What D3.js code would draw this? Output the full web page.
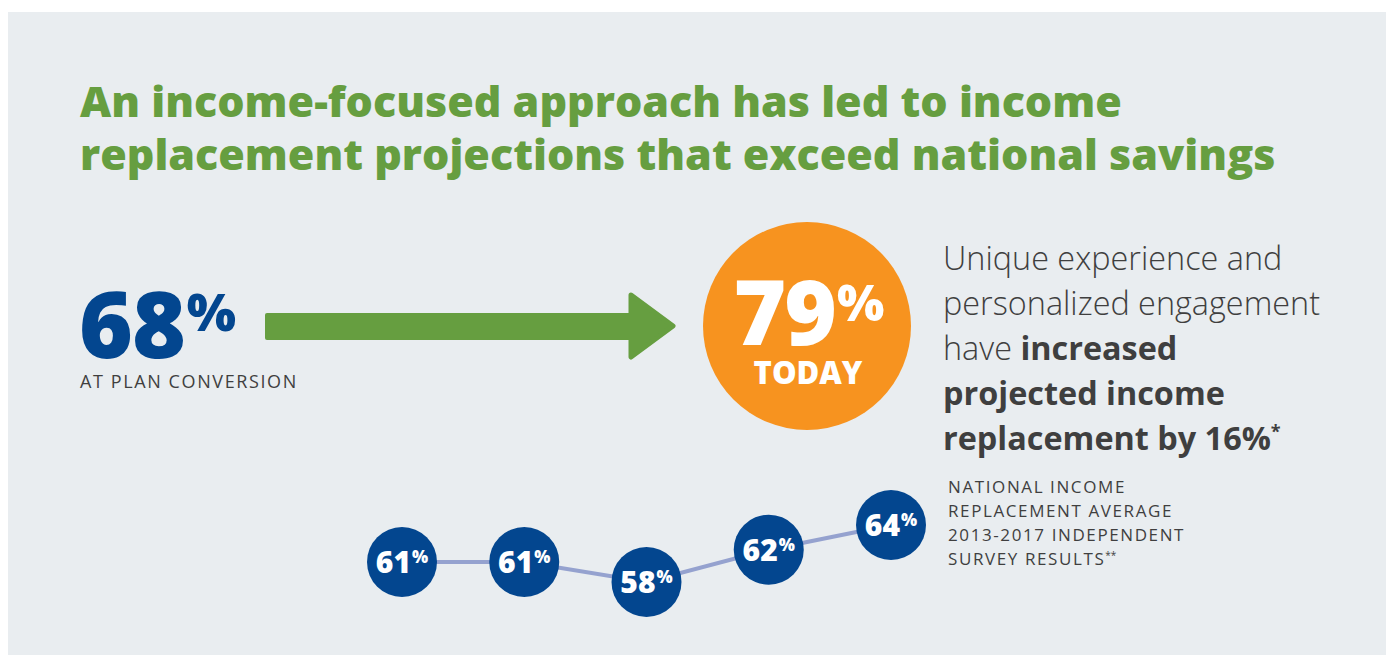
<!DOCTYPE html>
<html>
<head>
<meta charset="utf-8">
<script src="https://cdn.jsdelivr.net/npm/d3@7"></script>
<style>
  html, body { margin: 0; padding: 0; background: #fff; }
  svg { display: block; font-family: 'Open Sans', sans-serif; }
</style>
</head>
<body>
<div id="chart"></div>
<script>
// values
const years = ['2013', '2014', '2015', '2016', '2017'];
const nationalAvg = [61, 61, 58, 62, 64];
const atConversion = 68;
const today = 79;
const increase = 16;

const titleLines = [
  'An income-focused approach has led to income',
  'replacement projections that exceed national savings'
];
const captionLines = ['NATIONAL INCOME', 'REPLACEMENT AVERAGE', '2013-2017 INDEPENDENT', 'SURVEY RESULTS'];

const width = 1386;
const height = 655;

const green = '#669e40';
const navy = '#03468f';
const orange = '#f7931f';
const grey = '#3f3f3f';

const svg = d3.select('#chart')
  .append('svg')
  .attr('width', width)
  .attr('height', height);

// panel
svg.append('rect')
  .attr('x', 8)
  .attr('y', 12)
  .attr('width', width - 8)
  .attr('height', height - 12)
  .attr('fill', '#e9edf0');

// title
svg.append('g')
  .selectAll('text')
  .data(titleLines)
  .enter()
  .append('text')
  .attr('x', 80)
  .attr('y', (d, i) => 117 + i * 53)
  .attr('fill', green)
  .style('font-size', '43px')
  .style('font-weight', 800)
  .text((d) => d);

// 68% at plan conversion
const left = svg.append('text')
  .attr('x', 79)
  .attr('y', 358)
  .attr('fill', navy)
  .style('font-weight', 800);
left.append('tspan')
  .style('font-size', '92px')
  .style('letter-spacing', '-1px')
  .text(atConversion);
left.append('tspan')
  .attr('dy', -27)
  .attr('dx', 2)
  .style('font-size', '52px')
  .text('%');

svg.append('text')
  .attr('x', 80)
  .attr('y', 388)
  .attr('fill', grey)
  .style('font-size', '18px')
  .style('letter-spacing', '1.6px')
  .text('AT PLAN CONVERSION');

// arrow
svg.append('rect')
  .attr('x', 265)
  .attr('y', 313)
  .attr('width', 370)
  .attr('height', 27)
  .attr('rx', 2)
  .attr('fill', green);

svg.append('path')
  .attr('d', 'M631,295 L673,326 L631,357 Z')
  .attr('fill', green)
  .attr('stroke', green)
  .attr('stroke-width', 5)
  .attr('stroke-linejoin', 'round');

// 79% today
svg.append('circle')
  .attr('cx', 807)
  .attr('cy', 326)
  .attr('r', 104)
  .attr('fill', orange);

const big = svg.append('text')
  .attr('x', 809)
  .attr('y', 345)
  .attr('text-anchor', 'middle')
  .attr('fill', '#fff')
  .style('font-weight', 800);
big.append('tspan')
  .style('font-size', '90px')
  .style('letter-spacing', '-2px')
  .text(today);
big.append('tspan')
  .attr('dy', -24)
  .attr('dx', 2)
  .style('font-size', '50px')
  .text('%');

svg.append('text')
  .attr('x', 808)
  .attr('y', 384)
  .attr('text-anchor', 'middle')
  .attr('fill', '#fff')
  .style('font-size', '31px')
  .style('font-weight', 800)
  .text('TODAY');

// paragraph
const para = [
  [{ t: 'Unique experience and', w: 300 }],
  [{ t: 'personalized engagement', w: 300 }],
  [{ t: 'have ', w: 300 }, { t: 'increased', w: 700 }],
  [{ t: 'projected income', w: 700 }],
  [{ t: 'replacement by ' + increase + '%', w: 700 }, { t: '*', w: 700, sup: true }]
];

const paraText = svg.append('text')
  .attr('fill', grey)
  .style('font-size', '32.4px');

para.forEach((line, i) => {
  line.forEach((part, j) => {
    const ts = paraText.append('tspan')
      .style('font-weight', part.w)
      .text(part.t);
    if (j === 0) ts.attr('x', 943).attr('y', 270 + i * 45);
    if (part.sup) ts.attr('dy', -12).style('font-size', '18px');
  });
});

// caption
const cap = svg.append('text')
  .attr('fill', grey)
  .style('font-size', '17px')
  .style('letter-spacing', '1.6px');

captionLines.forEach((d, i) => {
  cap.append('tspan')
    .attr('x', 948)
    .attr('y', 493 + i * 24)
    .text(d);
});
cap.append('tspan')
  .attr('dy', -6)
  .style('font-size', '10px')
  .style('letter-spacing', '0px')
  .text('**');

// national average line
const x = d3.scalePoint()
  .domain(years)
  .range([402, 891]);

const y = d3.scaleLinear()
  .domain([58, 61, 64])
  .range([582, 562, 525]);

const pts = years.map((d, i) => ({ year: d, value: nationalAvg[i] }));

const line = d3.line()
  .x((d) => x(d.year))
  .y((d) => y(d.value));

svg.append('path')
  .datum(pts)
  .attr('d', line)
  .attr('fill', 'none')
  .attr('stroke', '#95a2cf')
  .attr('stroke-width', 4);

const dots = svg.selectAll('.dot')
  .data(pts)
  .enter()
  .append('g')
  .attr('class', 'dot')
  .attr('transform', (d) => `translate(${x(d.year)}, ${y(d.value)})`);

dots.append('circle')
  .attr('r', 35)
  .attr('fill', navy);

const lbl = dots.append('text')
  .attr('y', 11)
  .attr('text-anchor', 'middle')
  .attr('fill', '#fff')
  .style('font-weight', 800);
lbl.append('tspan')
  .style('font-size', '30px')
  .text((d) => d.value);
lbl.append('tspan')
  .attr('dy', -10)
  .attr('dx', 1)
  .style('font-size', '17px')
  .text('%');
</script>
</body>
</html>
